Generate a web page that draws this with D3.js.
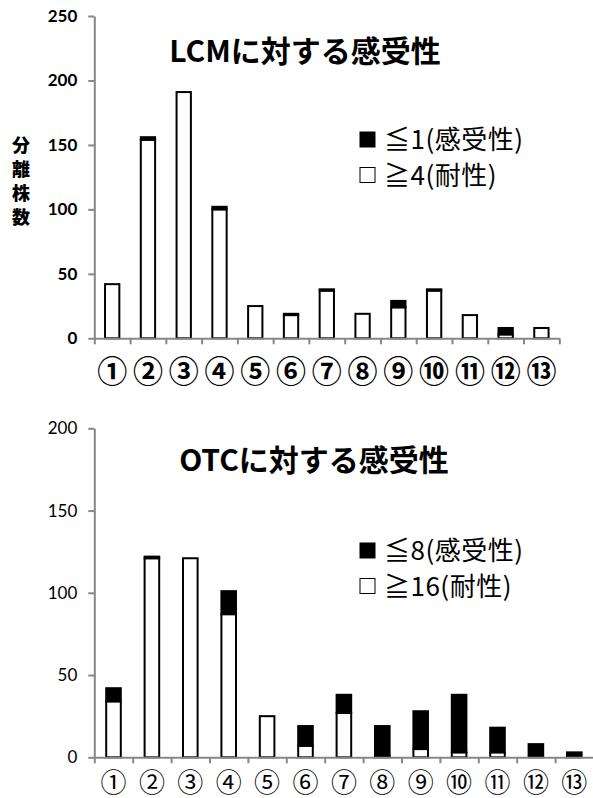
<!DOCTYPE html>
<html>
<head>
<meta charset="utf-8">
<script src="https://cdn.jsdelivr.net/npm/d3@7"></script>
<style>
  html, body { margin: 0; padding: 0; background: #fff; }
  svg { display: block; }
</style>
</head>
<body>
<svg id="chart" width="593" height="798"></svg>
<script>
// Isolate groups ①–⑬
const groups = ["①","②","③","④","⑤","⑥","⑦","⑧","⑨","⑩","⑪","⑫","⑬"];

// LCM: susceptible (≦1) and resistant (≧4) isolate counts per group
const lcmSusceptible = [0, 2, 0, 2, 0, 1, 1, 0, 5, 1, 0, 5, 0];
const lcmResistant   = [42, 154, 191, 100, 25, 18, 37, 19, 24, 37, 18, 3, 8];
const lcmTicks = [0, 50, 100, 150, 200, 250];

// OTC: susceptible (≦8) and resistant (≧16) isolate counts per group
const otcSusceptible = [8, 1, 0, 14, 0, 12, 11, 18, 23, 35, 15, 8, 3];
const otcResistant   = [34, 121, 121, 87, 25, 7, 27, 1, 5, 3, 3, 0, 0];
const otcTicks = [0, 50, 100, 150, 200];

const svg = d3.select("#chart");
const AXIS_GREY = "#878787";
const JP = "'Noto Sans CJK JP', sans-serif";
const NUM = "Lato, 'Noto Sans', sans-serif";

function drawPanel(cfg) {
  const g = svg.append("g");
  const y = d3.scaleLinear().domain([0, cfg.ticks[cfg.ticks.length - 1]])
    .range([cfg.y0, cfg.yTop]);
  const x = d3.scaleBand().domain(groups).range([cfg.xLeft, cfg.xRight])
    .paddingInner(cfg.pad).paddingOuter(cfg.pad / 2);
  const xEdge = d3.scaleLinear().domain([0, groups.length]).range([cfg.xLeft, cfg.xRight]);

  const rows = groups.map((k, i) => ({
    key: k, res: cfg.resistant[i], sus: cfg.susceptible[i]
  }));

  // resistant (white) segment at the base
  g.selectAll("rect.res").data(rows.filter(d => d.res > 0)).join("rect")
    .attr("class", "res")
    .attr("x", d => x(d.key))
    .attr("width", x.bandwidth())
    .attr("y", d => y(d.res))
    .attr("height", d => y(0) - y(d.res))
    .attr("fill", "#fff").attr("stroke", "#000").attr("stroke-width", 2);

  // susceptible (black) segment stacked on top
  g.selectAll("rect.sus").data(rows.filter(d => d.sus > 0)).join("rect")
    .attr("class", "sus")
    .attr("x", d => x(d.key))
    .attr("width", x.bandwidth())
    .attr("y", d => y(d.res + d.sus))
    .attr("height", d => y(d.res) - y(d.res + d.sus))
    .attr("fill", "#000").attr("stroke", "#000").attr("stroke-width", 2);

  // y axis
  const ya = g.append("g").attr("transform", `translate(${cfg.xLeft},0)`)
    .call(d3.axisLeft(y).tickValues(cfg.ticks).tickFormat(d3.format("d"))
      .tickSize(6).tickSizeOuter(0).tickPadding(11));
  ya.select(".domain").attr("stroke", AXIS_GREY).attr("stroke-width", 2);
  ya.selectAll(".tick line").attr("stroke", AXIS_GREY).attr("stroke-width", 2);
  ya.selectAll(".tick text").attr("fill", "#000")
    .style("font-family", NUM).style("font-size", "17px")
    .style("font-weight", cfg.bold ? "bold" : "normal");

  // x axis line with ticks at group boundaries
  const xa = g.append("g").attr("transform", `translate(0,${cfg.y0})`)
    .call(d3.axisBottom(xEdge).tickValues(d3.range(groups.length + 1))
      .tickFormat("").tickSize(6).tickSizeOuter(0));
  xa.select(".domain").attr("stroke", AXIS_GREY).attr("stroke-width", 2);
  xa.selectAll(".tick line").attr("stroke", AXIS_GREY).attr("stroke-width", 2);

  // group labels centred under each bar
  const xl = g.append("g").attr("transform", `translate(0,${cfg.y0})`)
    .call(d3.axisBottom(x).tickSize(0).tickPadding(cfg.labelPad));
  xl.select(".domain").remove();
  xl.selectAll(".tick text").attr("fill", "#000")
    .attr("dy", "0.5em")
    .style("font-family", JP).style("font-size", cfg.labelSize + "px")
    .style("font-weight", cfg.bold ? "bold" : "normal");

  // title
  g.append("text").attr("x", cfg.titleX).attr("y", cfg.titleY)
    .attr("text-anchor", "middle")
    .style("font-family", JP).style("font-size", "30px").style("font-weight", "bold")
    .text(cfg.title);

  // legend
  const lg = g.append("g");
  cfg.legend.forEach((item, i) => {
    const ly = cfg.legendY + i * 35.5;
    lg.append("rect").attr("x", 360).attr("y", ly - 7.5).attr("width", 15).attr("height", 15)
      .attr("fill", item.fill).attr("stroke", "#000").attr("stroke-width", 1);
    lg.append("text").attr("x", 384).attr("y", ly + 9.5)
      .style("font-family", JP).style("font-size", "26px")
      .style("letter-spacing", "0.5px")
      .text(item.label);
  });
}

drawPanel({
  ticks: lcmTicks, y0: 338.3, yTop: 16, xLeft: 94.3, xRight: 559.3, pad: 0.6,
  resistant: lcmResistant, susceptible: lcmSusceptible, bold: true,
  labelPad: 29, labelSize: 30,
  title: "LCMに対する感受性", titleX: 305, titleY: 62,
  legendY: 139.5,
  legend: [{fill: "#000", label: "≦1(感受性)"}, {fill: "#fff", label: "≧4(耐性)"}]
});

drawPanel({
  ticks: otcTicks, y0: 757.3, yTop: 428.3, xLeft: 94.3, xRight: 593.5, pad: 0.62,
  resistant: otcResistant, susceptible: otcSusceptible, bold: false,
  labelPad: 22, labelSize: 26,
  title: "OTCに対する感受性", titleX: 314, titleY: 471,
  legendY: 550.5,
  legend: [{fill: "#000", label: "≦8(感受性)"}, {fill: "#fff", label: "≧16(耐性)"}]
});

// vertical y-axis caption
const cap = svg.append("text")
  .style("font-family", JP).style("font-size", "18px").style("font-weight", "900")
  .attr("text-anchor", "middle");
["分","離","株","数"].forEach((ch, i) => {
  cap.append("tspan").attr("x", 21).attr("y", 152 + i * 24).text(ch);
});
</script>
</body>
</html>
